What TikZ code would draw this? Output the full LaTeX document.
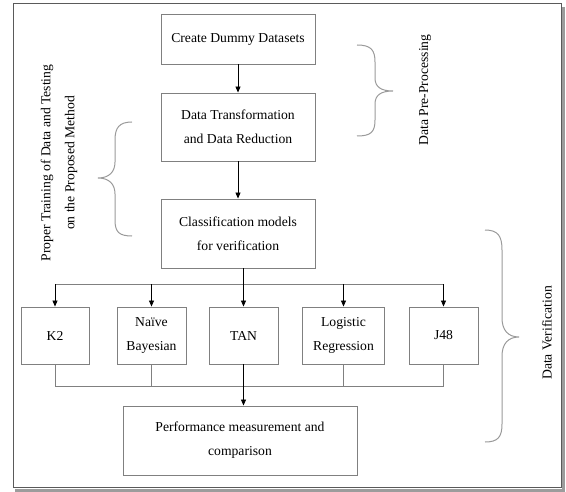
\documentclass[tikz,border=0pt]{standalone}
\usepackage{fontspec}
\setmainfont{Liberation Serif}
\usetikzlibrary{arrows.meta}
\definecolor{boxgray}{HTML}{808080}
\definecolor{bracegray}{HTML}{9A9A9A}
\definecolor{framegray}{HTML}{5A5A5A}
\definecolor{shadowgray}{HTML}{9C9C9C}
\begin{document}
\begin{tikzpicture}[x=1bp,y=-1bp,
  box/.style={draw=boxgray, line width=0.9bp, inner sep=0pt, align=center,
    font=\fontsize{13.7}{24}\selectfont, minimum height=69bp},
  arr/.style={draw=black, line width=0.8bp, -{Triangle[length=6bp,width=5bp]}},
  lnk/.style={draw=boxgray, line width=0.9bp},
  brc/.style={draw=bracegray, line width=1bp},
  lbl/.style={rotate=90, align=center, inner sep=0pt, font=\fontsize{13.7}{24}\selectfont}]
\useasboundingbox (0,0) rectangle (566,492);
% frame
\fill[shadowgray] (562,7) rectangle (565,492);
\fill[shadowgray] (15,489) rectangle (565,492);
\draw[framegray, line width=1bp] (13,4) rectangle (561,487);
% boxes
\node[box, minimum width=154bp, minimum height=50bp] (create) at (238,39) {Create Dummy Datasets};
\node[box, minimum width=154bp, minimum height=68bp] (trans) at (238,127) {Data Transformation\\and Data Reduction};
\node[box, minimum width=154bp] (class) at (238,233.5) {Classification models\\for verification};
\node[box, minimum width=68bp, minimum height=57bp] (k2) at (55,335.5) {K2};
\node[box, minimum width=69bp, minimum height=57bp] (nb) at (151.5,335.5) {Naïve\\Bayesian};
\node[box, minimum width=69bp, minimum height=57bp] (tan) at (243.5,335.5) {TAN};
\node[box, minimum width=82.5bp, minimum height=57bp] (lr) at (343.5,335.5) {Logistic\\Regression};
\node[box, minimum width=69bp, minimum height=57bp] (j48) at (443.5,335.5) {J48};
\node[box, minimum width=234bp] (perf) at (240,440.5) {Performance measurement and\\comparison};
% connectors
\coordinate (br) at (0,284);
\coordinate (jn) at (0,386);
\draw[arr] (create) -- (trans);
\draw[arr] (trans) -- (class);
\draw[lnk] (br -| k2.north) -- (br -| j48.north);
\draw[arr] (class.south -| tan.north) -- (tan.north);
\draw[arr] (br -| k2.north) -- (k2.north);
\draw[arr] (br -| nb.north) -- (nb.north);
\draw[arr] (br -| lr.north) -- (lr.north);
\draw[arr] (br -| j48.north) -- (j48.north);
\draw[lnk] (k2.south) -- (jn -| k2.south) -- (jn -| j48.south) -- (j48.south);
\draw[lnk] (nb.south) -- (jn -| nb.south);
\draw[lnk] (lr.south) -- (jn -| lr.south);
\draw[arr] (tan.south) -- (perf.north -| tan.south);
% braces
\draw[brc] (357,45) .. controls (371,45) and (375,50) .. (375,62) -- (375,78)
  .. controls (375,87) and (381,91) .. (393,91)
  .. controls (381,91) and (375,95) .. (375,104) -- (375,120)
  .. controls (375,132) and (371,136) .. (357,136);
\draw[brc] (132,122) .. controls (119,122) and (115,128) .. (115,140) -- (115,162)
  .. controls (115,172) and (109,178) .. (98,178)
  .. controls (109,178) and (115,184) .. (115,194) -- (115,220)
  .. controls (115,232) and (119,236) .. (132,236);
\draw[brc] (485,230) .. controls (498,230) and (502,236) .. (502,250) -- (502,318)
  .. controls (502,330) and (508,337) .. (519,337)
  .. controls (508,337) and (502,344) .. (502,356) -- (502,424)
  .. controls (502,437) and (498,442) .. (485,442);
% labels
\node[lbl] (pp) at (425,90) {Data Pre-Processing};
\node[lbl] (pt) at (59,163) {Proper Training of Data and Testing\\on the Proposed Method};
\node[lbl] (dv) at (547,333) {Data Verification};
\end{tikzpicture}
\end{document}
